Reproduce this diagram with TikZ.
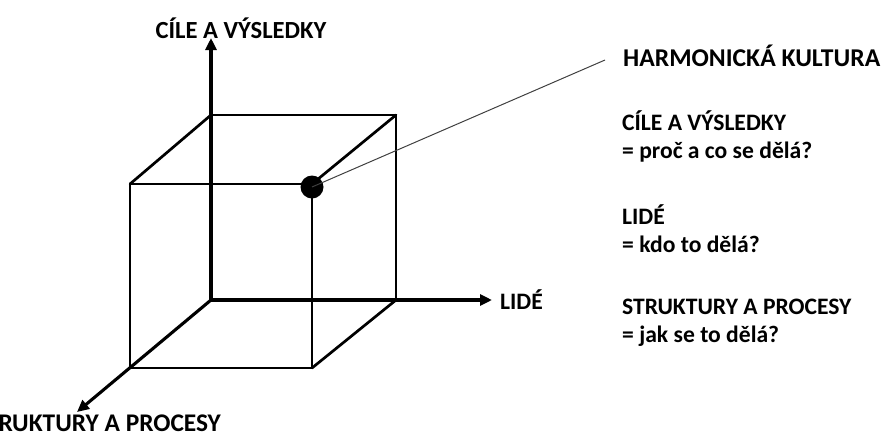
\documentclass[tikz,border=0pt]{standalone}
\usepackage{fontspec}
\usepackage{graphicx}
\setmainfont{Carlito}
\usetikzlibrary{arrows.meta}
\begin{document}
\begin{tikzpicture}[x=1pt,y=-1pt,
  edge/.style={line width=2.7pt,line cap=round,line join=round},
  axis/.style={line width=3.1pt,-{Triangle[length=12pt,width=11pt]}},
  lbl/.style={font=\bfseries\fontsize{23.6}{28}\selectfont,inner sep=0pt},
  txt/.style={lbl,anchor=west},
  leader/.style={line width=1pt,draw=black!75}]
\useasboundingbox (0,0) rectangle (884,432);
\clip (0,0) rectangle (884,432);
% cube corners
\coordinate (O)  at (211,300);
\coordinate (BT) at (211,115);
\coordinate (BTR) at (396,115);
\coordinate (BBR) at (396,300);
\coordinate (FTL) at (130,184);
\coordinate (FTR) at (312,184);
\coordinate (FBL) at (130,368);
\coordinate (FBR) at (312,368);
% axis ends
\coordinate (Ytip) at (211,38);
\coordinate (Xtip) at (492,300);
\coordinate (Ztip) at (77,412);
% cube edges
\draw[edge] (FTL) -- (FTR) -- (FBR) -- (FBL) -- cycle;
\draw[edge] (BT) -- (BTR) -- (BBR);
\draw[edge] (FTL) -- (BT);
\draw[edge] (FTR) -- (BTR);
\draw[edge] (FBR) -- (BBR);
% axes
\draw[axis] (O) -- (Ytip);
\draw[axis] (O) -- (Xtip);
\draw[axis] (O) -- (Ztip);
% labels
\node[lbl,font=\bfseries\fontsize{24.6}{29}\selectfont] (ylab) at (241,28) {CÍLE A VÝSLEDKY};
\node[lbl,anchor=west] (xlab) at (500,300) {LIDÉ};
\node[lbl,anchor=east,font=\bfseries\fontsize{25.4}{30}\selectfont] (zlab) at (221,423.5) {STRUKTURY A PROCESY};
% dot and leader
\node[circle,fill=black,minimum size=23pt,inner sep=0pt] (dot) at (312,187) {};
\coordinate (lend) at (605,60);
\draw[leader] (dot.center) -- (lend);
% right text
\node[txt,font=\bfseries\fontsize{25}{30}\selectfont] (hk) at (623,56) {\resizebox{257pt}{!}{HARMONICKÁ KULTURA}};
\node[txt] (t1) at (622,121) {CÍLE A VÝSLEDKY};
\node[txt] (t2) at (622,152) {= proč a co se dělá?};
\node[txt] (t3) at (622,215) {LIDÉ};
\node[txt] (t4) at (622,244) {= kdo to dělá?};
\node[txt] (t5) at (622,307) {STRUKTURY A PROCESY};
\node[txt] (t6) at (622,336) {= jak se to dělá?};
\end{tikzpicture}
\end{document}
